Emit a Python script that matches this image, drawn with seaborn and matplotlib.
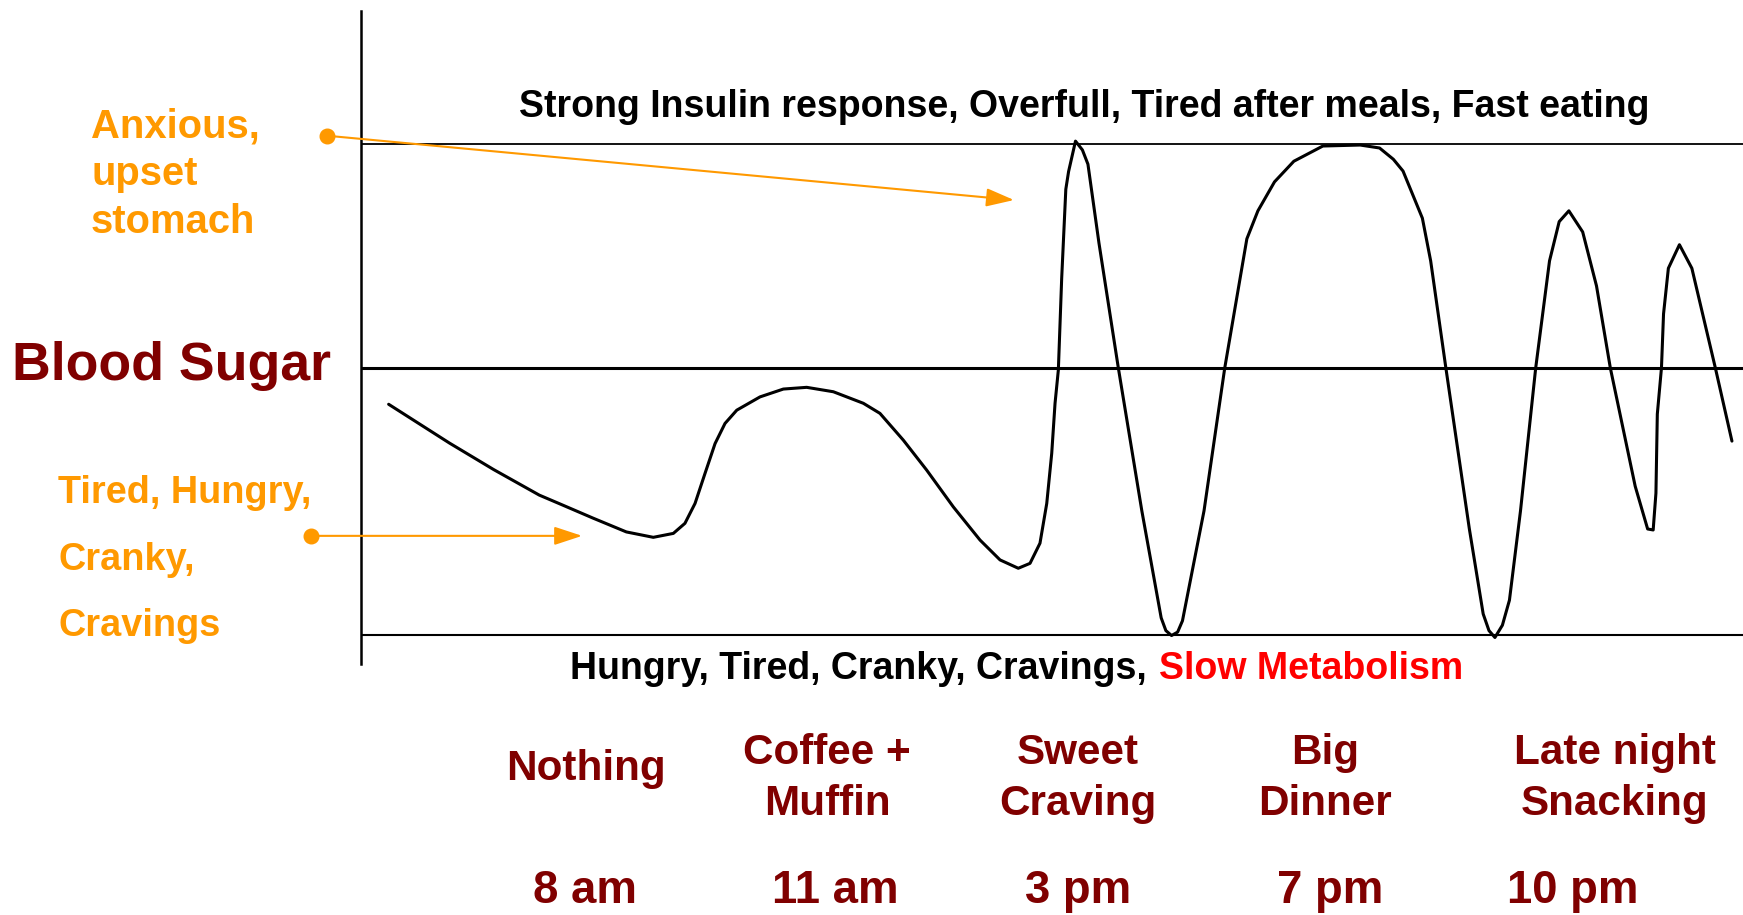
import seaborn as sns
import matplotlib.pyplot as plt

# blood sugar curve, x = position along the day (0..100), y = relative level
time_pos = [2.0, 6.4, 9.6, 12.9, 14.4, 16.8, 19.2, 21.15, 22.6, 23.44, 24.17,
            24.89, 25.62, 26.34, 27.19, 28.87, 30.56, 32.25, 34.18, 36.35,
            37.55, 39.24, 40.93, 42.86, 44.79, 46.24, 47.56, 48.41, 49.13,
            49.62, 49.98, 50.22, 50.46, 50.7, 51.0, 51.2, 51.7, 52.2, 52.6,
            53.4, 54.8, 56.5, 57.9, 58.24, 58.65, 59.09, 59.44, 61.0, 62.5,
            64.1, 64.9, 66.1, 67.5, 69.6, 72.3, 73.7, 74.7, 75.4, 76.8, 77.4,
            78.5, 80.2, 81.2, 81.62, 82.05, 82.59, 83.1, 83.9, 85.0, 86.0, 86.7,
            87.4, 88.4, 89.4, 90.4, 92.2, 93.1, 93.5, 93.7, 93.8, 94.1, 94.25,
            94.6, 95.4, 96.3, 98.0, 99.2]
sugar_level = [47.0, 39.1, 33.7, 28.5, 26.7, 23.8, 21.0, 19.9, 20.7, 22.75,
               26.8, 32.9, 39.0, 43.1, 45.8, 48.5, 50.1, 50.45, 49.55, 47.2,
               45.15, 39.7, 33.6, 26.1, 19.35, 15.3, 13.6, 14.6, 18.7, 26.8,
               37.0, 47.2, 54.0, 72.6, 90.8, 94.4, 100.6, 98.8, 95.9, 79.8,
               54.4, 25.3, 3.5, 0.9, -0.1, 0.6, 2.9, 25.3, 54.4, 80.7, 86.4,
               92.3, 96.5, 99.6, 99.8, 99.2, 96.9, 94.5, 84.9, 76.2, 54.4, 21.6,
               4.3, 0.9, -0.5, 2.0, 7.1, 25.3, 54.4, 76.2, 84.2, 86.4, 82.1,
               71.1, 54.4, 30.3, 21.6, 21.4, 28.9, 45.0, 54.4, 65.4, 74.7, 79.5,
               74.7, 54.4, 39.5]

high_level = 100
normal_level = 54.3
low_level = 0

meals = ["Nothing", "Coffee +\nMuffin", "Sweet\nCraving", "Big\nDinner",
         "Late night\nSnacking"]
meal_x = [586, 827, 1078, 1325, 1615]
times = ["8 am", "11 am", "3 pm", "7 pm", "10 pm"]
time_x = [585, 835, 1078, 1330, 1573]

high_text = "Strong Insulin response, Overfull, Tired after meals, Fast eating"
low_text = "Hungry, Tired, Cranky, Cravings,"
low_text_red = "Slow Metabolism"
anxious = ["Anxious,", "upset", "stomach"]
tired = ["Tired, Hungry,", "Cranky,", "Cravings"]

ORANGE = "#FF9900"
DARKRED = "#800000"

sns.set_theme(style="white")
plt.rcParams['font.family'] = ['Liberation Sans', 'DejaVu Sans']
plt.rcParams['font.weight'] = 'bold'

W, H = 1743, 915
fig = plt.figure(figsize=(W / 100, H / 100), dpi=100)


def fx(x):
    return x / W


def fy(y):
    return 1 - y / H


# main axes: the left spine is the vertical axis line
ax = fig.add_axes([fx(361), fy(664), 1 - fx(361), (664 - 11) / H])
ax.set_xlim(0, 100)
ax.set_ylim(-5.9, 127.1)
for s in ["top", "right", "bottom"]:
    ax.spines[s].set_visible(False)
ax.spines["left"].set_linewidth(1.8)
ax.spines["left"].set_color("black")
ax.set_xticks([])
ax.set_yticks([])

ax.axhline(high_level, color="black", lw=1.3)
ax.axhline(normal_level, color="black", lw=2.2)
ax.axhline(low_level, color="black", lw=1.5)

sns.lineplot(x=time_pos, y=sugar_level, sort=False, estimator=None,
             color="black", ax=ax)
curve = ax.lines[-1]
curve.set_linewidth(2.2)
curve.set_solid_joinstyle("round")
curve.set_solid_capstyle("round")

# orange pointers
arrow_kw = dict(arrowstyle="-|>,head_length=0.85,head_width=0.28",
                color=ORANGE, lw=1.5, mutation_scale=20, shrinkA=0, shrinkB=0)
ax.annotate("", xy=(47.25, 88.6), xytext=(-2.46, 101.7),
            arrowprops=arrow_kw, annotation_clip=False)
ax.annotate("", xy=(16.0, 20.2), xytext=(-3.64, 20.2),
            arrowprops=arrow_kw, annotation_clip=False)
ax.plot([-2.46, -3.64], [101.7, 20.2], "o", color=ORANGE, ms=10.5,
        clip_on=False, ls="none")

# texts
fig.text(fx(1084), fy(117), high_text, ha="center", va="baseline",
         fontsize=27, color="black", fontweight="bold")
fig.text(fx(570), fy(679), low_text, ha="left", va="baseline",
         fontsize=27, color="black", fontweight="bold")
fig.text(fx(1159), fy(679), low_text_red, ha="left", va="baseline",
         fontsize=27, color="red", fontweight="bold")
fig.text(fx(12), fy(380), "Blood Sugar", ha="left", va="baseline",
         fontsize=38.6, color=DARKRED, fontweight="bold")

for i, line in enumerate(anxious):
    fig.text(fx(91), fy(137 + 48 * i), line, ha="left", va="baseline",
             fontsize=28.8, color=ORANGE, fontweight="bold")
for i, line in enumerate(tired):
    fig.text(fx(58), fy(503 + 66.5 * i), line, ha="left", va="baseline",
             fontsize=27.3, color=ORANGE, fontweight="bold")

for label, x in zip(meals, meal_x):
    lines = label.split("\n")
    if len(lines) == 1:
        fig.text(fx(x), fy(780), lines[0], ha="center", va="baseline",
                 fontsize=30.4, color=DARKRED, fontweight="bold")
    else:
        for j, line in enumerate(lines):
            fig.text(fx(x), fy(764 + 51 * j), line, ha="center", va="baseline",
                     fontsize=30.4, color=DARKRED, fontweight="bold")

for label, x in zip(times, time_x):
    fig.text(fx(x), fy(903), label, ha="center", va="baseline",
             fontsize=32.8, color=DARKRED, fontweight="bold")

fig.savefig("out.png", dpi=100, facecolor="white")
